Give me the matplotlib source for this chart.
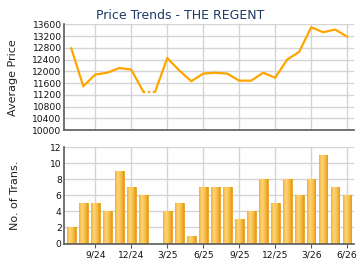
import numpy as np
import matplotlib
matplotlib.use('Agg')
import matplotlib.pyplot as plt
from matplotlib.colors import LinearSegmentedColormap

# months 7/24 .. 6/26
months = ['7/24', '8/24', '9/24', '10/24', '11/24', '12/24', '1/25', '2/25', '3/25', '4/25',
          '5/25', '6/25', '7/25', '8/25', '9/25', '10/25', '11/25', '12/25', '1/26', '2/26',
          '3/26', '4/26', '5/26', '6/26']
avg_price = [12780, 11490, 11890, 11950, 12110, 12060, 11310, 11310, 12450, 12030,
             11660, 11920, 11950, 11920, 11680, 11680, 11950, 11780, 12400, 12660,
             13500, 13330, 13420, 13180]
trans = [2, 5, 5, 4, 9, 7, 6, 0, 4, 5, 1, 7, 7, 7, 3, 4, 8, 5, 8, 6, 8, 11, 7, 6]
tick_labels = ['9/24', '12/24', '3/25', '6/25', '9/25', '12/25', '3/26', '6/26']
gap_month = 7  # no transactions, price carried over (dotted)

plt.rcParams['font.family'] = ['DejaVu Sans']
x = np.arange(len(months))
tick_pos = [months.index(t) for t in tick_labels]

fig = plt.figure(figsize=(3.6, 2.7), dpi=100)
ax1 = fig.add_axes([0.179, 0.5185, 0.804, 0.3915])
ax2 = fig.add_axes([0.179, 0.0981, 0.804, 0.356])

grid_c = '#d4d4d4'
for ax in (ax1, ax2):
    ax.set_xlim(-0.57, 23.56)
    ax.set_xticks(tick_pos)
    ax.grid(True, color=grid_c, linewidth=1)
    ax.set_axisbelow(True)
    for s in ('top', 'right'):
        ax.spines[s].set_visible(False)
    for s in ('left', 'bottom'):
        ax.spines[s].set_color('#5a5a5a')
        ax.spines[s].set_linewidth(1.2)
    ax.tick_params(axis='y', length=0, labelsize=6.6, pad=2, colors='#111111')
    ax.tick_params(axis='x', length=3, color='#5a5a5a', labelsize=6.6, pad=2, colors='#111111')

# price line, dotted across the month without sales
p = np.array(avg_price, dtype=float)
ax1.plot(x[:gap_month], p[:gap_month], color='#ffa500', lw=1.6, solid_joinstyle='round')
ax1.plot(x[gap_month:], p[gap_month:], color='#ffa500', lw=1.6, solid_joinstyle='round')
ax1.plot(x[gap_month - 1:gap_month + 1], p[gap_month - 1:gap_month + 1], color='#ffa500',
         lw=1.6, linestyle=(0, (1, 1.2)))
ax1.set_ylim(10000, 13600)
ax1.set_yticks(np.arange(10000, 13601, 400))
ax1.set_xticklabels([])
ax1.tick_params(axis='x', length=0)
ax1.set_ylabel('Average Price', fontsize=8, color='#222222')
ax1.yaxis.set_label_coords(-0.159, 0.5)
ax1.set_title('Price Trends - THE REGENT', fontsize=9, color='#1c3a66', pad=4, x=0.399)

# bars with a gold gradient
cmap = LinearSegmentedColormap.from_list('gold', ['#f3b02e', '#fdd47c', '#f8c04c', '#e9990f'])
grad = np.linspace(0, 1, 64).reshape(1, -1)
bars = ax2.bar(x, trans, width=0.72, color='#f5b53a', edgecolor='#e8a020', linewidth=0.6)
for b in bars:
    if b.get_height() <= 0:
        continue
    im = ax2.imshow(grad, cmap=cmap, aspect='auto', zorder=2.5,
                    extent=[b.get_x(), b.get_x() + b.get_width(), 0, b.get_height()])
    im.set_clip_path(b)
ax2.set_xlim(-0.57, 23.56)
ax2.set_ylim(0, 12)
ax2.set_yticks(np.arange(0, 13, 2))
ax2.set_xticklabels(tick_labels)
ax2.set_ylabel('No. of Trans.', fontsize=8, color='#222222')
ax2.yaxis.set_label_coords(-0.154, 0.5)

fig.savefig('out.png', dpi=100)
